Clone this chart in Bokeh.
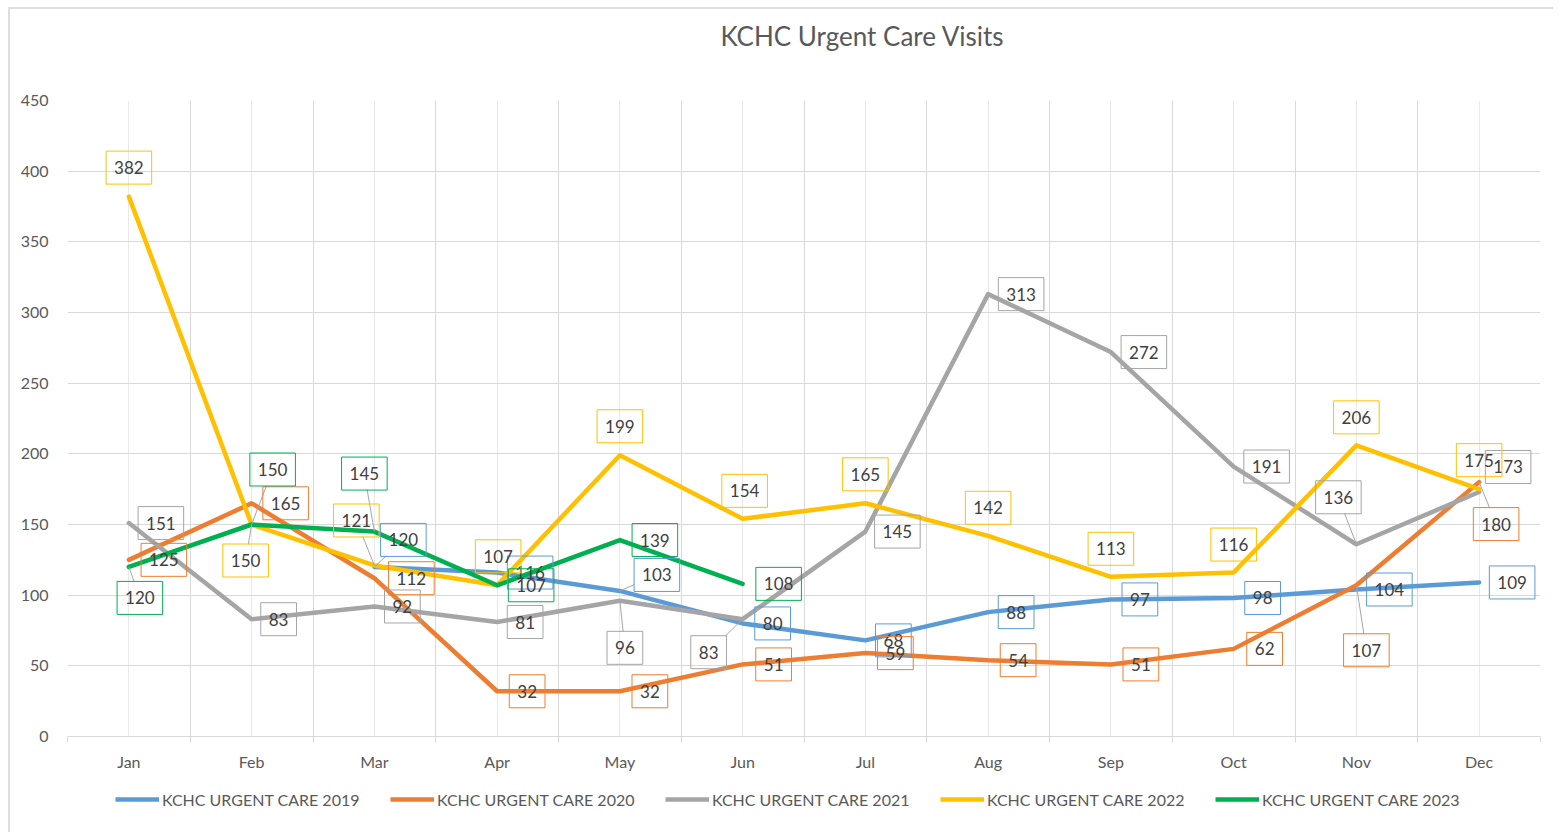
from bokeh.plotting import figure
from bokeh.layouts import column
from bokeh.models import FixedTicker, Legend, LegendItem, Range1d, ColumnDataSource
from bokeh.core.properties import value
from bokeh.embed import file_html
from bokeh.resources import INLINE

nan = float("nan")

title_text = "KCHC Urgent Care Visits"
months = ["Jan", "Feb", "Mar", "Apr", "May", "Jun", "Jul", "Aug", "Sep", "Oct", "Nov", "Dec"]
visits_2019 = [nan, nan, 120, 116, 103, 80, 68, 88, 97, 98, 104, 109]
visits_2020 = [125, 165, 112, 32, 32, 51, 59, 54, 51, 62, 107, 180]
visits_2021 = [151, 83, 92, 81, 96, 83, 145, 313, 272, 191, 136, 173]
visits_2022 = [382, 150, 121, 107, 199, 154, 165, 142, 113, 116, 206, 175]
visits_2023 = [120, 150, 145, 107, 139, 108, nan, nan, nan, nan, nan, nan]
series_names = ["KCHC URGENT CARE 2019", "KCHC URGENT CARE 2020", "KCHC URGENT CARE 2021",
                "KCHC URGENT CARE 2022", "KCHC URGENT CARE 2023"]
y_ticks = [0, 50, 100, 150, 200, 250, 300, 350, 400, 450]

# ---- styling / label placement (pixel offsets of the label boxes) ----
colors = ["#5B9BD5", "#ED7D31", "#A5A5A5", "#FFC000", "#00B050"]
off_2019 = [None, None, (29, -27), (33, 0), (37, -16), (30, 0), (28, 0), (28, 0), (29, 0), (29, 0), (33, 0), (33, 0)]
off_2020 = [(35, 0), (34, 0), (37, 0), (30, 0), (30, 0), (31, 0), (30, 0), (30, 0), (30, 0), (31, 0), (10, 65), (17, 42)]
off_2021 = [(32, 0), (27, 0), (28, 0), (28, 0), (5, 47), (-34, 33), (32, 0), (33, 0), (33, 0), (33, 0), (-18, -47), (29, -25)]
off_2022 = [(0, -29), (-6, 36), (-18, -45), (1, -29), (0, -29), (2, -28), (0, -29), (0, -28), (0, -28), (0, -28), (0, -28), (0, -29)]
off_2023 = [(11, 31), (21, -55), (-10, -58), (34, 0), (35, 0), (36, 0), None, None, None, None, None, None]
lead_2019 = [2, 4]
lead_2020 = [10, 11]
lead_2021 = [4, 5, 10]
lead_2022 = [1, 2]
lead_2023 = [0, 1, 2]

all_vals = [visits_2019, visits_2020, visits_2021, visits_2022, visits_2023]
all_offs = [off_2019, off_2020, off_2021, off_2022, off_2023]
all_leads = [lead_2019, lead_2020, lead_2021, lead_2022, lead_2023]

TITLE_H, LEG_H = 60, 48
FW, FH = 1473, 636
BL, BR, BT, BB = 67, 13, 100 - TITLE_H, 48
xs = FW / 12.0
ys = FH / 450.0

# ---------------- title strip (x range expressed in page pixels) ----------------
pt = figure(frame_width=FW, frame_height=TITLE_H, output_backend="svg", toolbar_location=None,
            x_range=Range1d(BL, BL + FW), y_range=Range1d(0, TITLE_H),
            x_axis_type=None, y_axis_type=None,
            min_border_left=BL, min_border_right=BR, min_border_top=0, min_border_bottom=0)
pt.grid.visible = False
pt.outline_line_color = None
pt.background_fill_alpha = 0
pt.border_fill_alpha = 0
pt.text(x=[862], y=[TITLE_H - 35], text=[title_text], text_align="center", text_baseline="middle",
        text_font=value("Lato"), text_font_size="26px", text_color="#595959")

# ---------------- main chart ----------------
p = figure(frame_width=FW, frame_height=FH, output_backend="svg", toolbar_location=None,
           x_range=Range1d(-0.5, 11.5), y_range=Range1d(0, 450), title=None,
           min_border_left=BL, min_border_right=BR, min_border_top=BT, min_border_bottom=BB)
p.outline_line_color = None
p.background_fill_color = "white"
p.border_fill_alpha = 0

xt = FixedTicker(ticks=list(range(12)), minor_ticks=[i - 0.5 for i in range(13)])
p.xaxis.ticker = xt
p.xaxis.major_label_overrides = {i: m for i, m in enumerate(months)}
p.xaxis.axis_line_color = "#d9d9d9"
p.xaxis.major_tick_line_color = None
p.xaxis.minor_tick_line_color = "#d9d9d9"
p.xaxis.minor_tick_out = 6
p.xaxis.minor_tick_in = 0
p.xaxis.major_tick_out = 0
p.xaxis.major_label_standoff = 9
p.xaxis.major_label_text_font = "Lato"
p.xaxis.major_label_text_font_size = "16px"
p.xaxis.major_label_text_color = "#595959"

p.yaxis.ticker = FixedTicker(ticks=y_ticks)
p.yaxis.axis_line_color = None
p.yaxis.major_tick_line_color = None
p.yaxis.minor_tick_line_color = None
p.yaxis.major_label_standoff = 13
p.yaxis.major_label_text_font = "Lato"
p.yaxis.major_label_text_font_size = "16px"
p.yaxis.major_label_text_color = "#595959"

p.xgrid.grid_line_color = "#e9e9e9"
p.xgrid.minor_grid_line_color = "#d9d9d9"
p.ygrid.grid_line_color = "#d9d9d9"

x = list(range(12))
for vals, col in zip(all_vals, colors):
    p.line(x, vals, line_color=col, line_width=4.5, line_join="round", line_cap="round")

# leader lines
lx0, ly0, lx1, ly1 = [], [], [], []
for vals, offs, leads in zip(all_vals, all_offs, all_leads):
    for i in leads:
        dx, dy = offs[i]
        hw = 23 if vals[i] >= 100 else 17
        hh = 16
        tx = hw / abs(dx) if dx else 1e9
        ty = hh / abs(dy) if dy else 1e9
        t = min(tx, ty)
        ex, ey = dx * (1 - t), dy * (1 - t)
        lx0.append(i); ly0.append(vals[i])
        lx1.append(i + ex / xs); ly1.append(vals[i] - ey / ys)
p.segment(lx0, ly0, lx1, ly1, line_color="#a6a6a6", line_width=1)

# data labels
for vals, offs, col in zip(all_vals, all_offs, colors):
    src = dict(x=[], y=[], t=[], dx=[], dy=[])
    for i, v in enumerate(vals):
        if v != v:
            continue
        src["x"].append(i); src["y"].append(v); src["t"].append(str(int(v)))
        src["dx"].append(offs[i][0]); src["dy"].append(offs[i][1])
    p.text(x="x", y="y", text="t", x_offset="dx", y_offset="dy", source=ColumnDataSource(src),
           text_align="center", text_baseline="middle", text_font=value("Lato"),
           text_font_size="17px", text_color="#404040",
           border_line_color=col, border_line_width=1, background_fill_color=None,
           padding=dict(left=8, right=8, top=10, bottom=10))

# ---------------- legend strip ----------------
pl = figure(frame_width=FW, frame_height=LEG_H, output_backend="svg", toolbar_location=None,
            x_range=Range1d(0, 1), y_range=Range1d(0, 1),
            x_axis_type=None, y_axis_type=None,
            min_border_left=BL, min_border_right=BR, min_border_top=0, min_border_bottom=0)
pl.grid.visible = False
pl.outline_line_color = None
pl.background_fill_alpha = 0
pl.border_fill_alpha = 0
# swatch renderers: their points lie outside the visible range, only the legend shows them
leg_rs = [pl.line(x=[-5, -4], y=[-5, -5], line_color=c, line_width=4.5) for c in colors]
legend = Legend(items=[LegendItem(label=n, renderers=[r]) for n, r in zip(series_names, leg_rs)],
                orientation="horizontal", location=(48, 23), glyph_width=44, glyph_height=20,
                label_standoff=3, spacing=28, label_width=200, padding=2, margin=0,
                border_line_color=None, background_fill_alpha=0,
                label_text_font="Lato", label_text_font_size="16px", label_text_color="#595959")
pl.add_layout(legend)

layout = column(pt, p, pl, spacing=0)
layout.styles = {"background": "linear-gradient(#dedede,#dedede) 8px 7px / 3000px 2px no-repeat, "
                               "linear-gradient(#dedede,#dedede) 8px 7px / 2px 3000px no-repeat, white"}

open("out.html", "w").write(file_html(layout, INLINE))
